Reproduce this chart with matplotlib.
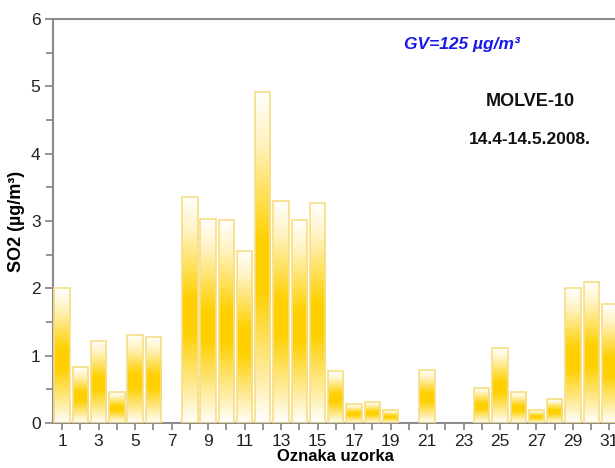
import numpy as np
import matplotlib
matplotlib.use("Agg")
import matplotlib.pyplot as plt
from matplotlib.colors import LinearSegmentedColormap
from matplotlib.patches import Rectangle

plt.rcParams['font.family'] = ['Liberation Sans', 'DejaVu Sans']

samples = list(range(1, 32))
so2 = [2.00, 0.83, 1.22, 0.46, 1.31, 1.28, 0.0, 3.36, 3.03, 3.02,
       2.56, 4.92, 3.30, 3.02, 3.26, 0.77, 0.28, 0.31, 0.19, 0.0,
       0.79, 0.0, 0.0, 0.52, 1.12, 0.46, 0.19, 0.35, 2.00, 2.10, 1.76]
xtick_labels = [str(i) if i % 2 == 1 else "" for i in samples]

fig = plt.figure(figsize=(6.15, 4.68), dpi=100)
ax = fig.add_axes([53/615, 45/468, (618.6-53)/615, 404/468])

cmap = LinearSegmentedColormap.from_list(
    "gold", [(0.0, "#FFFFFF"), (0.12, "#FEEFB0"), (0.40, "#FFD000"),
             (0.55, "#FFD000"), (0.85, "#FFF3C2"), (1.0, "#FFFFFF")])
grad = np.linspace(0, 1, 256).reshape(-1, 1)

width = 0.84
bars = ax.bar(samples, so2, width=width, facecolor="none",
              edgecolor="#F6DE86", linewidth=1.2, zorder=3)
for b in bars:
    h = b.get_height()
    if h <= 0:
        b.set_linewidth(0)
        continue
    x0 = b.get_x()
    im = ax.imshow(grad, cmap=cmap, aspect="auto", origin="lower",
                   extent=[x0, x0 + b.get_width(), 0, h], zorder=2)
    clip = Rectangle((x0, 0), b.get_width(), h, transform=ax.transData)
    im.set_clip_path(clip)

ax.set_xlim(0.5, 31.5)
ax.set_ylim(0, 6)
ax.set_xticks(samples)
ax.set_xticklabels(xtick_labels)
ax.set_yticks(range(0, 7))
ax.set_yticks(np.arange(0.5, 6, 1.0), minor=True)

for s in ["left", "top", "bottom"]:
    ax.spines[s].set_color("#8C8C8C")
    ax.spines[s].set_linewidth(1.5)
ax.spines["right"].set_visible(False)
ax.tick_params(axis="both", which="both", colors="#8C8C8C", labelcolor="#222222",
               labelsize=12.5, direction="out")
ax.tick_params(axis="y", which="major", length=6, width=1.3, pad=3)
ax.tick_params(axis="y", which="minor", length=5, width=1.3)
ax.tick_params(axis="x", which="major", length=5, width=1.3, pad=3)

ax.set_xlabel("Oznaka uzorka", fontsize=12, fontweight="bold", labelpad=0)
ax.set_ylabel("SO2 (µg/m³)", fontsize=13, fontweight="bold", labelpad=4)

fig.text(462/615, 1 - 45/468, "GV=125 µg/m³", color="#1A1AE6", fontsize=12.5,
         fontweight="bold", fontstyle="italic", ha="center", va="center")
fig.text(530/615, 1 - 101/468, "MOLVE-10", color="#111111", fontsize=13,
         fontweight="bold", ha="center", va="center")
fig.text(530/615, 1 - 139/468, "14.4-14.5.2008.", color="#111111", fontsize=12.5,
         fontweight="bold", ha="center", va="center")

fig.savefig("out.png", dpi=100)
